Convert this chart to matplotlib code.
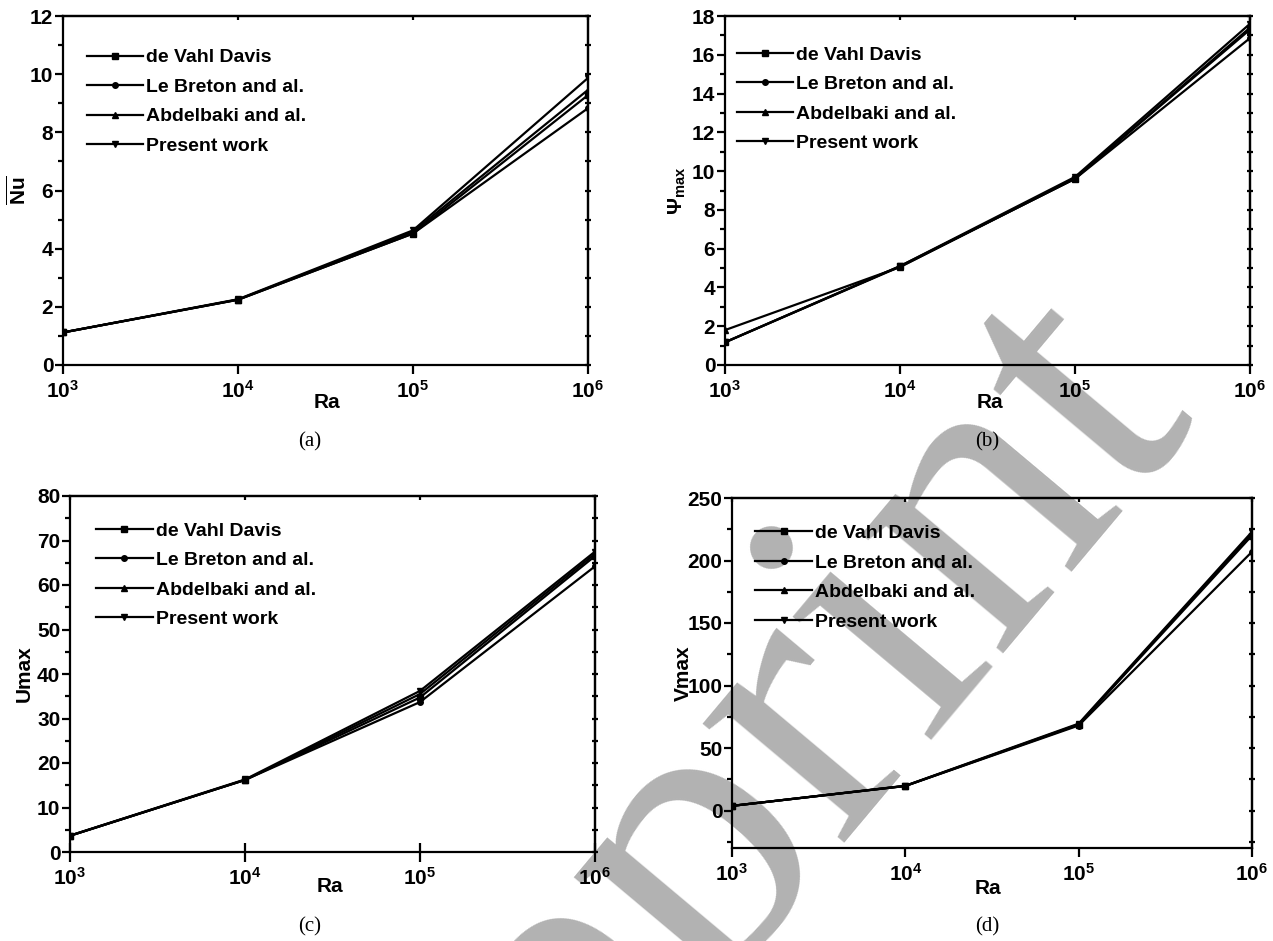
import matplotlib
matplotlib.use("Agg")
import matplotlib.pyplot as plt
from matplotlib import font_manager
from matplotlib.ticker import MultipleLocator, FixedLocator, NullFormatter

# ---------------- data ----------------
Ra = [1e3, 1e4, 1e5, 1e6]
series_names = ["de Vahl Davis", "Le Breton and al.", "Abdelbaki and al.", "Present work"]
series_markers = ["s", "o", "^", "v"]

# (a) average Nusselt number
nu_devahl = [1.118, 2.243, 4.519, 9.28]
nu_lebreton = [1.118, 2.245, 4.52, 8.83]
nu_abdelbaki = [1.12, 2.25, 4.58, 9.46]
nu_present = [1.12, 2.26, 4.63, 9.87]

# (b) maximum stream function
psi_devahl = [1.174, 5.098, 9.612, 17.4]
psi_lebreton = [1.17, 5.07, 9.6, 16.86]
psi_abdelbaki = [1.8, 5.05, 9.62, 17.3]
psi_present = [1.17, 5.1, 9.7, 17.6]

# (c) maximum horizontal velocity
u_devahl = [3.649, 16.178, 34.73, 66.5]
u_lebreton = [3.65, 16.2, 33.7, 64.2]
u_abdelbaki = [3.65, 16.2, 35.5, 67.0]
u_present = [3.7, 16.3, 36.2, 67.5]

# (d) maximum vertical velocity
v_devahl = [3.697, 19.617, 68.59, 220.0]
v_lebreton = [3.7, 19.6, 68.0, 207.0]
v_abdelbaki = [3.7, 19.7, 69.0, 222.0]
v_present = [3.7, 19.8, 69.5, 223.0]

ylabels = [r"$\overline{\mathbf{Nu}}$", r"$\mathbf{\Psi_{max}}$", "Umax", "Vmax"]
panel_labels = ["(a)", "(b)", "(c)", "(d)"]
xtick_labels = [r"$\mathbf{10^{3}}$", r"$\mathbf{10^{4}}$", r"$\mathbf{10^{5}}$", r"$\mathbf{10^{6}}$"]

# ---------------- fonts ----------------
avail = {f.name for f in font_manager.fontManager.ttflist}
sans = "Liberation Sans Narrow" if "Liberation Sans Narrow" in avail else "Liberation Sans"
serif = "Liberation Serif" if "Liberation Serif" in avail else "DejaVu Serif"
plt.rcParams["font.family"] = [sans, "DejaVu Sans"]
plt.rcParams["font.weight"] = "bold"
plt.rcParams["mathtext.fontset"] = "custom"
plt.rcParams["mathtext.rm"] = sans + ":bold"
plt.rcParams["mathtext.bf"] = sans + ":bold"
plt.rcParams["mathtext.it"] = sans + ":bold"

fig = plt.figure(figsize=(12.73, 9.41), dpi=100)
W, H = 1273.0, 941.0

def rect(l, r, t, b):
    return [l / W, 1 - b / H, (r - l) / W, (b - t) / H]

panels = [
    dict(rect=rect(63, 588, 16, 365), ylim=(0, 12), major=2, minor=1,
         data=[nu_devahl, nu_lebreton, nu_abdelbaki, nu_present],
         leg=(0.045, 0.906), ylabx=18, plab=(310, 442), rax=327, ray=403,
         xdir="out", xlen=9),
    dict(rect=rect(725, 1250, 16, 365), ylim=(0, 18), major=2, minor=1,
         data=[psi_devahl, psi_lebreton, psi_abdelbaki, psi_present],
         leg=(0.022, 0.914), ylabx=677, plab=(987, 442), rax=990, ray=403,
         xdir="out", xlen=9),
    dict(rect=rect(70, 595, 496, 852), ylim=(0, 80), major=10, minor=5,
         data=[u_devahl, u_lebreton, u_abdelbaki, u_present],
         leg=(0.05, 0.927), ylabx=24, plab=(310, 927), rax=330, ray=886,
         xdir="inout", xlen=19),
    dict(rect=rect(732, 1252, 498, 848), ylim=(-30, 250), major=50, minor=25,
         data=[v_devahl, v_lebreton, v_abdelbaki, v_present],
         leg=(0.045, 0.924), ylabx=683, plab=(987, 927), rax=988, ray=889,
         xdir="out", xlen=9),
]

# watermark (behind everything)
fig.text(704 / W, 1 - 845 / H, "Preprint", rotation=50, fontsize=290, color="#b2b2b2",
         family=serif, weight="normal", ha="center", va="center", zorder=-5)

for i, p in enumerate(panels):
    ax = fig.add_axes(p["rect"])
    ax.patch.set_alpha(0)
    for d, name, mk in zip(p["data"], series_names, series_markers):
        ax.plot(Ra, d, color="black", lw=1.6, marker=mk, markersize=4, label=name)
    ax.set_xscale("log")
    ax.set_xlim(1e3, 1e6)
    ax.set_ylim(*p["ylim"])
    ax.xaxis.set_major_locator(FixedLocator(Ra))
    ax.xaxis.set_minor_locator(FixedLocator([]))
    ax.set_xticklabels(xtick_labels)
    ax.yaxis.set_major_locator(MultipleLocator(p["major"]))
    ax.yaxis.set_minor_locator(MultipleLocator(p["minor"]))
    for s in ax.spines.values():
        s.set_linewidth(1.6)
    ax.tick_params(axis="x", which="major", direction=p["xdir"], length=p["xlen"] * 0.72,
                   width=1.6, labelsize=15, pad=4)
    ax.tick_params(axis="y", which="major", direction="out", length=6, width=1.6,
                   labelsize=15, pad=1)
    ax.tick_params(axis="y", which="minor", direction="out", length=3.5, width=1.6)
    # right and top tick marks
    sec_y = ax.secondary_yaxis("right")
    sec_y.yaxis.set_major_locator(MultipleLocator(p["minor"]))
    sec_y.yaxis.set_major_formatter(NullFormatter())
    sec_y.tick_params(direction="inout", length=4, width=1.6)
    sec_y.spines["right"].set_linewidth(1.6)
    sec_x = ax.secondary_xaxis("top")
    sec_x.xaxis.set_major_locator(FixedLocator(Ra))
    sec_x.xaxis.set_minor_locator(FixedLocator([]))
    sec_x.xaxis.set_major_formatter(NullFormatter())
    sec_x.tick_params(direction="in", length=3, width=1.6)
    sec_x.spines["top"].set_linewidth(1.6)

    ax.legend(loc="upper left", bbox_to_anchor=p["leg"], frameon=False,
              numpoints=1, handlelength=2.9, handletextpad=0.15,
              labelspacing=0.61, borderpad=0, borderaxespad=0,
              prop={"family": sans, "weight": "bold", "size": 14})

    # y label
    fig.text(p["ylabx"] / W, p["rect"][1] + p["rect"][3] / 2, ylabels[i], rotation=90,
             fontsize=15, weight="bold", ha="center", va="center")
    # Ra label
    fig.text(p["rax"] / W, 1 - p["ray"] / H, "Ra", fontsize=15, weight="bold",
             ha="center", va="center")
    # panel label
    fig.text(p["plab"][0] / W, 1 - p["plab"][1] / H, panel_labels[i], fontsize=15,
             family=serif, weight="normal", ha="center", va="center")

fig.savefig("out.png", dpi=100)
